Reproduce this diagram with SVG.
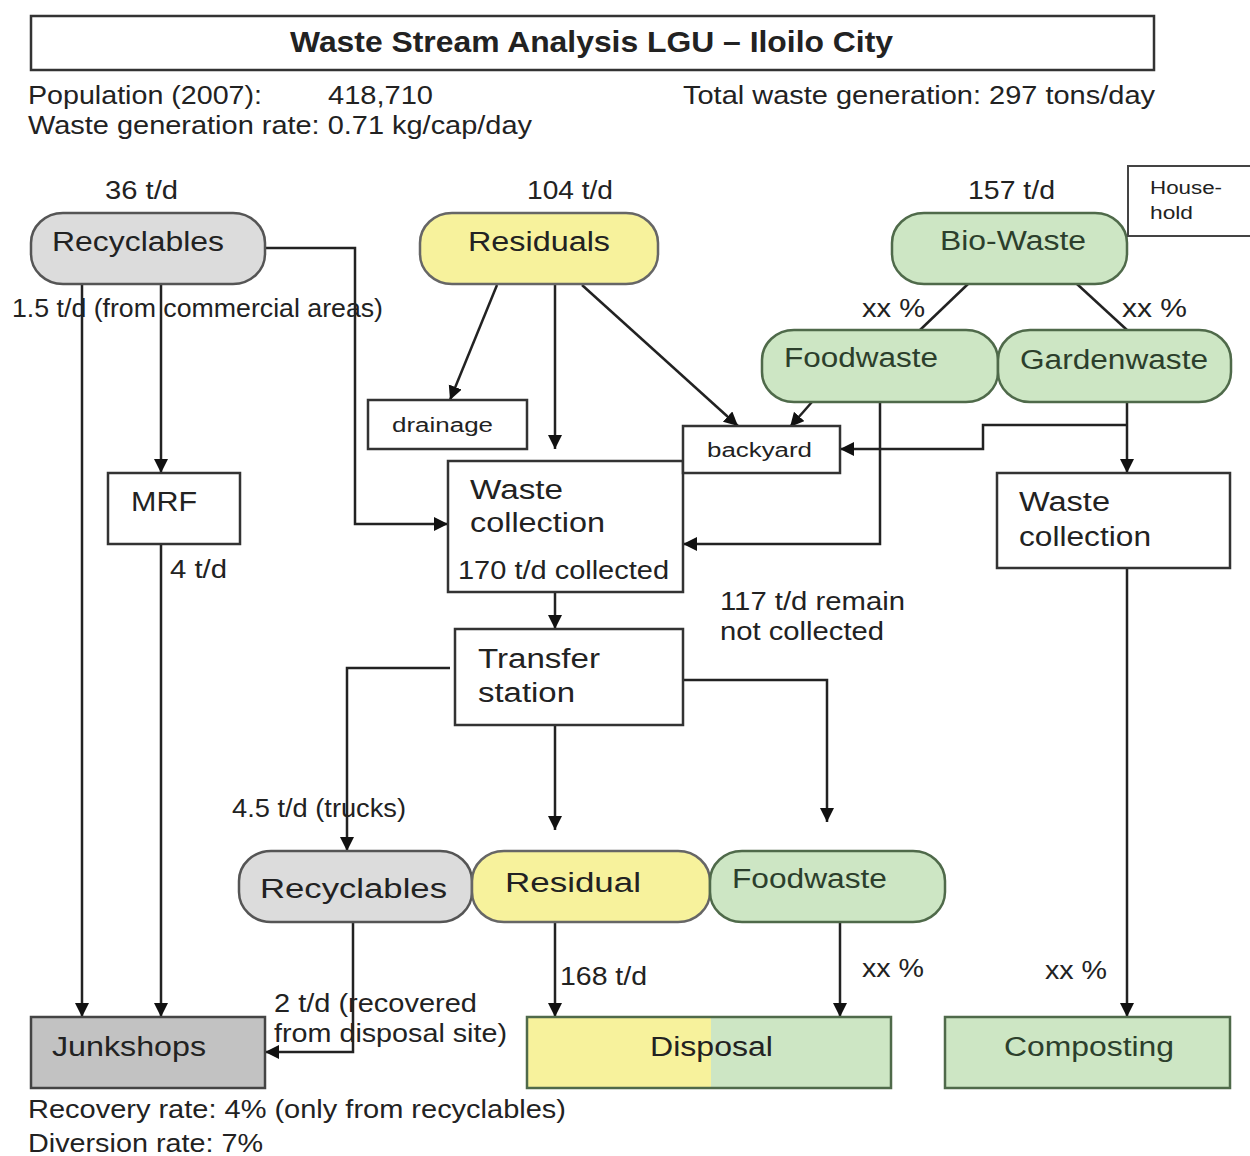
<svg xmlns="http://www.w3.org/2000/svg" width="1250" height="1156" viewBox="0 0 1250 1156">
<defs>
<style>
text{font-family:"Liberation Sans",Arial,sans-serif;fill:#222}
.t{font-size:25px}
.n{font-size:27px}
.s{font-size:20px}
.xs{font-size:18px}
.g{fill:#2c3f2c}
.box{fill:#fff;stroke:#333;stroke-width:2.5}
.gray{fill:#dcdcdc;stroke:#555;stroke-width:2.5}
.yel{fill:#f7f29c;stroke:#666;stroke-width:2.5}
.grn{fill:#cde6c4;stroke:#4f6a4a;stroke-width:2.5}
.ln{fill:none;stroke:#222;stroke-width:2.5}
.ar{fill:none;stroke:#222;stroke-width:2.5;marker-end:url(#ah)}
</style>
<marker id="ah" markerUnits="userSpaceOnUse" markerWidth="16" markerHeight="16" refX="14" refY="7" orient="auto">
<path d="M0,0 L14,7 L0,14 Z" fill="#111"/>
</marker>
</defs>
<rect width="1250" height="1156" fill="#fff"/>

<g id="header">
<rect x="31" y="16" width="1123" height="54" fill="#fff" stroke="#333" stroke-width="2.5"/>
<text x="290" y="52" font-size="30" font-weight="bold" textLength="603" lengthAdjust="spacingAndGlyphs">Waste Stream Analysis LGU – Iloilo City</text>
<text class="t" x="28" y="104" textLength="234" lengthAdjust="spacingAndGlyphs">Population (2007):</text>
<text class="t" x="328" y="104" textLength="105" lengthAdjust="spacingAndGlyphs">418,710</text>
<text class="t" x="683" y="104" textLength="472" lengthAdjust="spacingAndGlyphs">Total waste generation: 297 tons/day</text>
<text class="t" x="28" y="134" textLength="504" lengthAdjust="spacingAndGlyphs">Waste generation rate: 0.71 kg/cap/day</text>
</g>

<g id="connectors">
<!-- Recyclables top -->
<path class="ar" d="M82,284 V1017"/>
<path class="ar" d="M161,284 V473"/>
<path class="ar" d="M265,248 H355 V524 H448"/>
<path class="ar" d="M161,544 V1017"/>
<!-- Residuals -->
<path class="ar" d="M497,285 L450,400"/>
<path class="ar" d="M555,285 V449"/>
<path class="ar" d="M582,285 L738,426"/>
<!-- Bio-waste -->
<path class="ln" d="M968,284 L920,330"/>
<path class="ln" d="M1077,284 L1127,330"/>
<!-- Foodwaste -->
<path class="ar" d="M812,402 L790,427"/>
<path class="ar" d="M880,402 V544 H683"/>
<!-- Gardenwaste -->
<path class="ar" d="M1127,402 V473"/>
<path class="ar" d="M1127,425 H983 V449 H840"/>
<path class="ar" d="M1127,568 V1017"/>
<!-- collection to transfer -->
<path class="ar" d="M555,592 V629"/>
<path class="ar" d="M450,668 H347 V851"/>
<path class="ar" d="M555,725 V830"/>
<path class="ar" d="M683,680 H827 V822"/>
<!-- bottom -->
<path class="ar" d="M353,922 V1052 H265"/>
<path class="ar" d="M555,922 V1017"/>
<path class="ar" d="M840,922 V1017"/>
</g>

<g id="recyclables-top">
<text class="t" x="105" y="199" textLength="73" lengthAdjust="spacingAndGlyphs">36 t/d</text>
<rect class="gray" x="31" y="213" width="234" height="71" rx="32" ry="30"/>
<text class="n" x="52" y="251" textLength="172" lengthAdjust="spacingAndGlyphs">Recyclables</text>
</g>
<g id="residuals-top">
<text class="t" x="527" y="199" textLength="86" lengthAdjust="spacingAndGlyphs">104 t/d</text>
<rect class="yel" x="420" y="213" width="238" height="71" rx="32" ry="30"/>
<text class="n" x="468" y="251" textLength="142" lengthAdjust="spacingAndGlyphs">Residuals</text>
</g>
<g id="biowaste">
<text class="t" x="968" y="199" textLength="87" lengthAdjust="spacingAndGlyphs">157 t/d</text>
<rect class="grn" x="892" y="213" width="235" height="71" rx="32" ry="30"/>
<text class="n g" x="940" y="250" textLength="146" lengthAdjust="spacingAndGlyphs">Bio-Waste</text>
</g>
<g id="household">
<rect x="1128" y="166" width="130" height="70" fill="#fff" stroke="#444" stroke-width="2"/>
<text class="xs" x="1150" y="194" textLength="72" lengthAdjust="spacingAndGlyphs">House-</text>
<text class="xs" x="1150" y="219" textLength="43" lengthAdjust="spacingAndGlyphs">hold</text>
</g>
<g id="labels">
<text class="t" x="12" y="317" textLength="371" lengthAdjust="spacingAndGlyphs">1.5 t/d (from commercial areas)</text>
<text class="t" x="862" y="317" textLength="63" lengthAdjust="spacingAndGlyphs">xx %</text>
<text class="t" x="1122" y="317" textLength="65" lengthAdjust="spacingAndGlyphs">xx %</text>
<text class="t" x="170" y="578" textLength="57" lengthAdjust="spacingAndGlyphs">4 t/d</text>
<text class="t" x="720" y="610" textLength="185" lengthAdjust="spacingAndGlyphs">117 t/d remain</text>
<text class="t" x="720" y="640" textLength="164" lengthAdjust="spacingAndGlyphs">not collected</text>
<text class="t" x="232" y="817" textLength="174" lengthAdjust="spacingAndGlyphs">4.5 t/d (trucks)</text>
<text class="t" x="274" y="1012" textLength="203" lengthAdjust="spacingAndGlyphs">2 t/d (recovered</text>
<text class="t" x="274" y="1042" textLength="233" lengthAdjust="spacingAndGlyphs">from disposal site)</text>
<text class="t" x="560" y="985" textLength="87" lengthAdjust="spacingAndGlyphs">168 t/d</text>
<text class="t" x="862" y="977" textLength="62" lengthAdjust="spacingAndGlyphs">xx %</text>
<text class="t" x="1045" y="979" textLength="62" lengthAdjust="spacingAndGlyphs">xx %</text>
<text class="t" x="28" y="1118" textLength="538" lengthAdjust="spacingAndGlyphs">Recovery rate: 4% (only from recyclables)</text>
<text class="t" x="28" y="1152" textLength="235" lengthAdjust="spacingAndGlyphs">Diversion rate: 7%</text>
</g>
<g id="foodwaste-top">
<rect class="grn" x="762" y="330" width="236" height="72" rx="32" ry="30"/>
<text class="n g" x="784" y="367" textLength="154" lengthAdjust="spacingAndGlyphs">Foodwaste</text>
</g>
<g id="gardenwaste">
<rect class="grn" x="998" y="330" width="233" height="72" rx="32" ry="30"/>
<text class="n g" x="1020" y="369" textLength="188" lengthAdjust="spacingAndGlyphs">Gardenwaste</text>
</g>
<g id="drainage">
<rect class="box" x="368" y="400" width="159" height="49"/>
<text class="s" x="392" y="432" textLength="101" lengthAdjust="spacingAndGlyphs">drainage</text>
</g>
<g id="mrf">
<rect class="box" x="108" y="473" width="132" height="71"/>
<text class="n" x="131" y="511" textLength="66" lengthAdjust="spacingAndGlyphs">MRF</text>
</g>
<g id="waste-collection">
<rect class="box" x="448" y="461" width="235" height="131"/>
<text class="n" x="470" y="499" textLength="93" lengthAdjust="spacingAndGlyphs">Waste</text>
<text class="n" x="470" y="532" textLength="135" lengthAdjust="spacingAndGlyphs">collection</text>
<text class="t" x="458" y="579" textLength="211" lengthAdjust="spacingAndGlyphs">170 t/d collected</text>
</g>
<g id="backyard">
<rect class="box" x="683" y="426" width="157" height="47"/>
<text class="s" x="707" y="457" textLength="105" lengthAdjust="spacingAndGlyphs">backyard</text>
</g>
<g id="waste-collection-right">
<rect class="box" x="997" y="473" width="233" height="95"/>
<text class="n" x="1019" y="511" textLength="91" lengthAdjust="spacingAndGlyphs">Waste</text>
<text class="n" x="1019" y="546" textLength="132" lengthAdjust="spacingAndGlyphs">collection</text>
</g>
<g id="transfer-station">
<rect class="box" x="455" y="629" width="228" height="96"/>
<text class="n" x="478" y="668" textLength="122" lengthAdjust="spacingAndGlyphs">Transfer</text>
<text class="n" x="478" y="702" textLength="97" lengthAdjust="spacingAndGlyphs">station</text>
</g>
<g id="recyclables-bottom">
<rect class="gray" x="239" y="851" width="233" height="71" rx="32" ry="30"/>
<text class="n" x="260" y="898" font-size="29" textLength="187" lengthAdjust="spacingAndGlyphs">Recyclables</text>
</g>
<g id="residual-bottom">
<rect class="yel" x="472" y="851" width="238" height="71" rx="32" ry="30"/>
<text class="n" x="505" y="892" textLength="136" lengthAdjust="spacingAndGlyphs">Residual</text>
</g>
<g id="foodwaste-bottom">
<rect class="grn" x="710" y="851" width="235" height="71" rx="32" ry="30"/>
<text class="n g" x="732" y="888" textLength="155" lengthAdjust="spacingAndGlyphs">Foodwaste</text>
</g>
<g id="junkshops">
<rect x="31" y="1017" width="234" height="71" fill="#c2c2c2" stroke="#444" stroke-width="2.5"/>
<text class="n" x="52" y="1056" textLength="154" lengthAdjust="spacingAndGlyphs">Junkshops</text>
</g>
<g id="disposal">
<rect x="527" y="1017" width="184" height="71" fill="#f7f29c"/>
<rect x="711" y="1017" width="180" height="71" fill="#cde6c4"/>
<rect x="527" y="1017" width="364" height="71" fill="none" stroke="#4f6a4a" stroke-width="2.5"/>
<text class="n" x="650" y="1056" textLength="123" lengthAdjust="spacingAndGlyphs">Disposal</text>
</g>
<g id="composting">
<rect class="grn" x="945" y="1017" width="285" height="71"/>
<text class="n g" x="1004" y="1056" textLength="170" lengthAdjust="spacingAndGlyphs">Composting</text>
</g>
</svg>
